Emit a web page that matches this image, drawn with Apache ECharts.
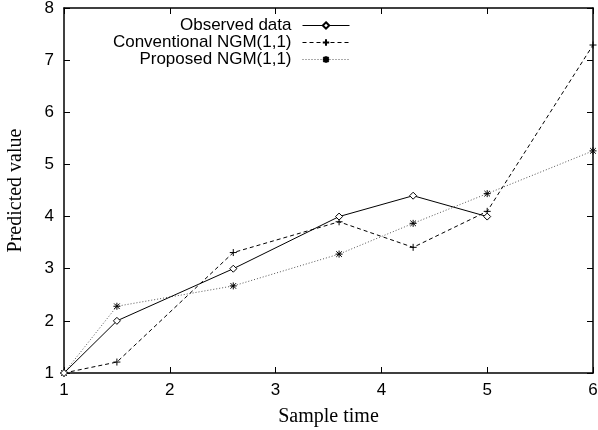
<!DOCTYPE html>
<html>
<head>
<meta charset="utf-8">
<script src="https://cdn.jsdelivr.net/npm/echarts@6/dist/echarts.min.js"></script>
<style>
  html, body { margin: 0; padding: 0; background: #fff; }
  #chart { width: 598px; height: 430px; }
</style>
</head>
<body>
<div id="chart"></div>
<script>
// sample times and values
let sampleTime = [1, 1.5, 2.6, 3.6, 4.3, 5, 6]
let observed = [1, 2, 3, 4, 4.4, 4]
let conventional = [1, 1.21, 3.31, 3.9, 3.41, 4.1, 7.29]
let proposed = [1, 2.28, 2.67, 3.28, 3.87, 4.44, 5.26]

function pairs(ys) {
    let out = []
    for (let i = 0; i < ys.length; i++) {
        out.push([sampleTime[i], ys[i]])
    }
    return out
}

let plusPath = 'path://M0,-1L0,1M-1,0L1,0'
let starPath = 'path://M0,-1L0,1M-1,0L1,0M-0.8,-0.8L0.8,0.8M-0.8,0.8L0.8,-0.8'

let sansFont = 'Liberation Sans'
let serifFont = 'Liberation Serif'

let chart = echarts.init(document.querySelector('#chart'))

let boxAxis = {
    axisLine: { show: true, lineStyle: { color: '#000', width: 1.5 } },
    axisTick: { show: true, inside: true, length: 6, lineStyle: { color: '#000' } },
    splitLine: { show: false }
}

let option = {
    backgroundColor: '#fff',
    animation: false,
    grid: { left: 64, right: 5, top: 8, bottom: 57, outerBoundsMode: 'none', containLabel: false },
    legend: {
        orient: 'vertical',
        align: 'right',
        right: 248,
        top: 17,
        itemWidth: 47,
        itemHeight: 8,
        itemGap: 0,
        padding: 0,
        lineStyle: { width: 1 },
        textStyle: { fontFamily: sansFont, fontSize: 17, color: '#000', lineHeight: 17, padding: [0, 6, 0, 0] },
        data: ['Observed data', 'Conventional NGM(1,1)', 'Proposed NGM(1,1)']
    },
    xAxis: [
        Object.assign({}, boxAxis, {
            type: 'value', position: 'bottom', min: 1, max: 6, interval: 1,
            name: 'Sample time', nameLocation: 'middle', nameGap: 34,
            nameTextStyle: { fontFamily: serifFont, fontSize: 20, color: '#000' },
            axisLabel: { fontFamily: sansFont, fontSize: 17, color: '#000', margin: 9 }
        }),
        Object.assign({}, boxAxis, {
            type: 'value', position: 'top', min: 1, max: 6, interval: 1,
            axisLabel: { show: false }
        })
    ],
    yAxis: [
        Object.assign({}, boxAxis, {
            type: 'value', position: 'left', min: 1, max: 8, interval: 1,
            name: 'Predicted value', nameLocation: 'middle', nameGap: 38,
            nameTextStyle: { fontFamily: serifFont, fontSize: 20, color: '#000' },
            axisLabel: { fontFamily: sansFont, fontSize: 17, color: '#000', margin: 10 }
        }),
        Object.assign({}, boxAxis, {
            type: 'value', position: 'right', min: 1, max: 8, interval: 1,
            axisLabel: { show: false }
        })
    ],
    series: [
        {
            name: 'Observed data',
            type: 'line',
            data: pairs(observed),
            symbol: 'diamond',
            symbolSize: 7,
            showAllSymbol: true,
            lineStyle: { color: '#000', width: 1 },
            itemStyle: { color: '#fff', borderColor: '#000', borderWidth: 1 },
            z: 5
        },
        {
            name: 'Conventional NGM(1,1)',
            type: 'line',
            data: pairs(conventional),
            symbol: plusPath,
            symbolSize: 7,
            showAllSymbol: true,
            lineStyle: { color: '#000', width: 1, type: [4, 3] },
            itemStyle: { color: '#000', borderColor: '#000', borderWidth: 1 },
            z: 4
        },
        {
            name: 'Proposed NGM(1,1)',
            type: 'line',
            data: pairs(proposed),
            symbol: starPath,
            symbolSize: 7,
            showAllSymbol: true,
            lineStyle: { color: '#555', width: 1, type: [1, 2] },
            itemStyle: { color: '#000', borderColor: '#000', borderWidth: 1 },
            z: 3
        }
    ]
}

chart.setOption(option)
</script>
</body>
</html>
